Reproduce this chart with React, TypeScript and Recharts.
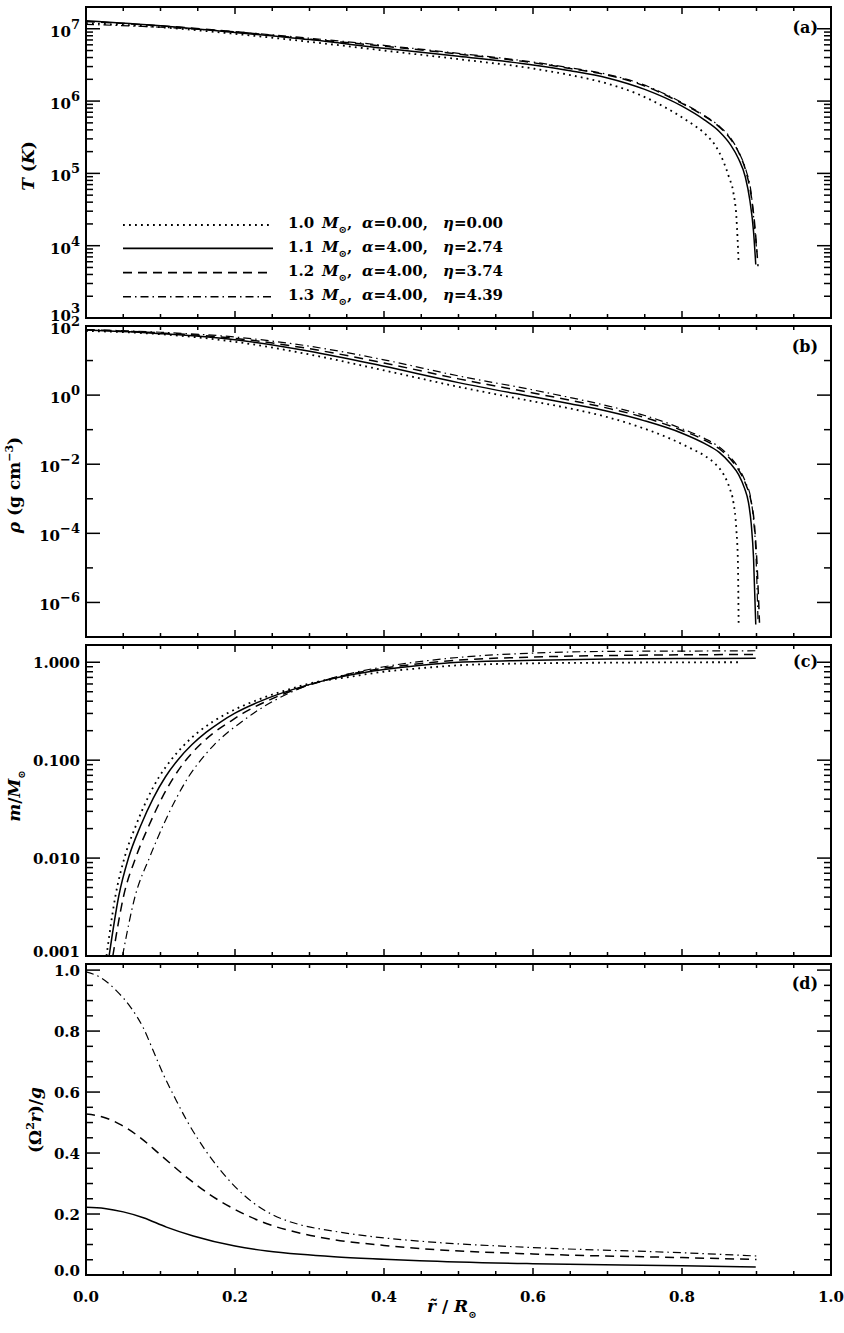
import React from "react";
import { LineChart, Line, XAxis, YAxis, ReferenceArea, Customized } from "recharts";

const FONT = '"DejaVu Serif", "Liberation Serif", serif';
const W = 844;
const PL = 86;
const PR = 831;
const MT = 20;
const PH = 311;

// x axis ticks (r / R_sun)
const X_MAJOR = [0, 0.2, 0.4, 0.6, 0.8, 1.0];
const X_TICKS = [0, 0.05, 0.1, 0.15, 0.2, 0.25, 0.3, 0.35, 0.4, 0.45, 0.5, 0.55, 0.6, 0.65, 0.7, 0.75, 0.8, 0.85, 0.9, 0.95, 1.0];

// legend text
const MASSES = ["1.0", "1.1", "1.2", "1.3"];
const ALPHAS = ["0.00", "4.00", "4.00", "4.00"];
const ETAS = ["0.00", "2.74", "3.74", "4.39"];

// (a) temperature T (K)
const T_R_10 = [0, 0.1, 0.2, 0.3, 0.4, 0.5, 0.6, 0.65, 0.7, 0.74, 0.78, 0.81, 0.83, 0.845, 0.855, 0.863, 0.869, 0.873, 0.876];
const T_10 = [1.2e7, 1.05e7, 8.5e6, 6.6e6, 5.0e6, 3.8e6, 2.82e6, 2.29e6, 1.74e6, 1.26e6, 7.9e5, 5.1e5, 3.6e5, 2.4e5, 1.51e5, 8.9e4, 5.4e4, 2.5e4, 5.9e3];
const T_R_11 = [0, 0.1, 0.2, 0.3, 0.4, 0.5, 0.6, 0.65, 0.7, 0.75, 0.8, 0.83, 0.85, 0.865, 0.876, 0.885, 0.891, 0.896, 0.899];
const T_11 = [1.29e7, 1.1e7, 8.9e6, 7.08e6, 5.37e6, 4.17e6, 3.16e6, 2.63e6, 2.09e6, 1.45e6, 8.5e5, 5.5e5, 3.8e5, 2.5e5, 1.58e5, 8.9e4, 4.3e4, 1.58e4, 5.5e3];
const T_R_12 = [0, 0.1, 0.2, 0.3, 0.4, 0.5, 0.6, 0.65, 0.7, 0.75, 0.8, 0.83, 0.85, 0.865, 0.877, 0.886, 0.893, 0.898, 0.902];
const T_12 = [1.26e7, 1.1e7, 9.1e6, 7.2e6, 5.75e6, 4.47e6, 3.39e6, 2.82e6, 2.29e6, 1.62e6, 9.3e5, 6.2e5, 4.4e5, 3.0e5, 1.86e5, 1.05e5, 4.8e4, 1.78e4, 5.2e3];
const T_R_13 = [0, 0.1, 0.2, 0.3, 0.4, 0.5, 0.6, 0.65, 0.7, 0.75, 0.8, 0.83, 0.85, 0.865, 0.877, 0.886, 0.893, 0.897, 0.901];
const T_13 = [1.15e7, 1.05e7, 9.1e6, 7.4e6, 5.9e6, 4.57e6, 3.47e6, 2.88e6, 2.34e6, 1.66e6, 9.5e5, 6.3e5, 4.5e5, 3.1e5, 1.9e5, 1.1e5, 5.2e4, 2.0e4, 7.1e3];

// (b) density rho (g cm^-3)
const D_R_10 = [0, 0.1, 0.2, 0.3, 0.4, 0.5, 0.6, 0.65, 0.7, 0.74, 0.78, 0.81, 0.83, 0.845, 0.856, 0.864, 0.869, 0.873, 0.875, 0.876];
const RHO_10 = [72, 58, 35, 15, 5.2, 1.74, 0.66, 0.41, 0.23, 0.126, 0.06, 0.03, 0.0178, 0.01, 5.0e-3, 2.0e-3, 7.9e-4, 1.26e-4, 1.6e-5, 2.6e-7];
const D_R_11 = [0, 0.1, 0.2, 0.3, 0.4, 0.5, 0.6, 0.65, 0.7, 0.75, 0.8, 0.83, 0.85, 0.865, 0.876, 0.884, 0.889, 0.893, 0.896, 0.899];
const RHO_11 = [76, 60, 40, 18.6, 6.8, 2.3, 0.89, 0.56, 0.34, 0.18, 0.079, 0.04, 0.022, 0.0105, 5.0e-3, 2.0e-3, 8.3e-4, 1.8e-4, 2.0e-5, 2.3e-7];
const D_R_12 = [0, 0.1, 0.2, 0.3, 0.4, 0.5, 0.6, 0.65, 0.7, 0.75, 0.8, 0.83, 0.85, 0.865, 0.877, 0.886, 0.892, 0.897, 0.9, 0.904];
const RHO_12 = [78, 63, 44, 22, 8.5, 2.95, 1.15, 0.71, 0.42, 0.224, 0.095, 0.05, 0.028, 0.0141, 6.3e-3, 2.5e-3, 1.0e-3, 2.0e-4, 2.5e-5, 2.6e-7];
const D_R_13 = [0, 0.1, 0.2, 0.3, 0.4, 0.5, 0.6, 0.65, 0.7, 0.75, 0.8, 0.83, 0.85, 0.865, 0.877, 0.886, 0.892, 0.896, 0.899, 0.902];
const RHO_13 = [79, 66, 48, 26, 10.5, 3.6, 1.41, 0.85, 0.49, 0.257, 0.107, 0.056, 0.0316, 0.0158, 7.1e-3, 2.8e-3, 1.12e-3, 2.5e-4, 3.2e-5, 3.2e-7];

// (c) enclosed mass m / M_sun
const M_R_10 = [0.0275, 0.0395, 0.0515, 0.067, 0.0825, 0.098, 0.114, 0.132, 0.1505, 0.17, 0.19, 0.2305, 0.271, 0.31, 0.349, 0.4, 0.45, 0.5, 0.6, 0.7, 0.8, 0.877];
const M_10 = [0.001, 0.0041, 0.01, 0.0215, 0.0405, 0.0673, 0.1, 0.1435, 0.193, 0.2466, 0.302, 0.413, 0.525, 0.63, 0.7, 0.8, 0.87, 0.93, 0.975, 0.99, 0.998, 1.0];
const M_R_11 = [0.031, 0.044, 0.057, 0.0735, 0.09, 0.1065, 0.123, 0.142, 0.1615, 0.181, 0.2, 0.2385, 0.277, 0.313, 0.349, 0.4, 0.45, 0.5, 0.6, 0.7, 0.8, 0.899];
const M_11 = [0.001, 0.0041, 0.01, 0.0215, 0.0405, 0.0673, 0.1, 0.1435, 0.193, 0.2466, 0.302, 0.413, 0.525, 0.63, 0.726, 0.841, 0.933, 1.0, 1.047, 1.08, 1.09, 1.1];
const M_R_12 = [0.036, 0.0505, 0.0665, 0.0845, 0.1015, 0.118, 0.134, 0.153, 0.1725, 0.193, 0.211, 0.2465, 0.281, 0.349, 0.4, 0.45, 0.5, 0.6, 0.7, 0.8, 0.902];
const M_12 = [0.001, 0.0041, 0.01, 0.0215, 0.0405, 0.0673, 0.1, 0.1435, 0.193, 0.2466, 0.302, 0.413, 0.525, 0.74, 0.87, 0.97, 1.05, 1.13, 1.17, 1.19, 1.2];
const M_R_13 = [0.049, 0.066, 0.085, 0.1035, 0.121, 0.1375, 0.154, 0.172, 0.1905, 0.209, 0.225, 0.2545, 0.283, 0.349, 0.4, 0.45, 0.5, 0.6, 0.7, 0.8, 0.901];
const M_13 = [0.001, 0.0041, 0.01, 0.0215, 0.0405, 0.0673, 0.1, 0.1435, 0.193, 0.2466, 0.302, 0.413, 0.525, 0.75, 0.9, 1.02, 1.12, 1.24, 1.29, 1.3, 1.31];

// (d) (Omega^2 r)/g
const G_R_11 = [0, 0.025, 0.05, 0.077, 0.108, 0.144, 0.2, 0.243, 0.288, 0.333, 0.4, 0.448, 0.6, 0.8, 0.899];
const G_11 = [0.222, 0.218, 0.207, 0.188, 0.157, 0.128, 0.095, 0.079, 0.068, 0.06, 0.052, 0.047, 0.037, 0.03, 0.026];
const G_R_12 = [0, 0.02, 0.045, 0.072, 0.099, 0.131, 0.166, 0.2, 0.243, 0.288, 0.333, 0.4, 0.448, 0.6, 0.8, 0.9];
const G_12 = [0.528, 0.52, 0.495, 0.452, 0.396, 0.329, 0.264, 0.215, 0.168, 0.137, 0.116, 0.097, 0.087, 0.069, 0.057, 0.051];
const G_R_13 = [0, 0.02, 0.041, 0.06, 0.077, 0.09, 0.104, 0.12, 0.135, 0.15, 0.162, 0.18, 0.198, 0.225, 0.251, 0.287, 0.332, 0.377, 0.448, 0.6, 0.8, 0.903];
const G_13 = [0.994, 0.975, 0.932, 0.878, 0.81, 0.737, 0.657, 0.578, 0.508, 0.447, 0.403, 0.345, 0.295, 0.236, 0.197, 0.165, 0.144, 0.128, 0.111, 0.09, 0.073, 0.062];

// y ticks
const T_MAJOR = [1e3, 1e4, 1e5, 1e6, 1e7];
const RHO_MAJOR = [1e-6, 1e-4, 1e-2, 1, 1e2];
const RHO_TICKS = [1e-7, 1e-6, 1e-5, 1e-4, 1e-3, 1e-2, 1e-1, 1, 10, 100];
const M_MAJOR = [0.001, 0.01, 0.1, 1];
const G_MAJOR = [0, 0.2, 0.4, 0.6, 0.8, 1.0];
const G_TICKS = [0, 0.05, 0.1, 0.15, 0.2, 0.25, 0.3, 0.35, 0.4, 0.45, 0.5, 0.55, 0.6, 0.65, 0.7, 0.75, 0.8, 0.85, 0.9, 0.95, 1.0];

const logTicks = (majors: number[], top: number) => {
  const out: number[] = [];
  majors.forEach((m) => {
    for (let k = 1; k <= 9; k++) if (k * m <= top * 1.000001) out.push(k * m);
  });
  return out;
};

const zip = (r: number[], v: number[]) => r.map((x, i) => ({ r: x, v: v[i] }));

const STYLES = [
  { dash: "1.8 4.2", width: 1.8 },
  { dash: undefined, width: 1.5 },
  { dash: "9 6", width: 1.5 },
  { dash: "8 4 1.5 4", width: 1.2 },
];

const near = (a: number, b: number) => Math.abs(a - b) <= 1e-9 * Math.max(1e-12, Math.abs(a), Math.abs(b));

const tx = { fontFamily: FONT, fill: "#000", fontWeight: "bold" as const };

// tick labels on the left axis
function YTick(props: any) {
  const { y, payload, majors, kind, minVal } = props;
  const v = payload.value;
  if (!majors.some((m: number) => near(m, v))) return <g />;
  const ly = near(v, minVal) ? y - 5 : y;
  if (kind === "pow") {
    const e = Math.round(Math.log10(v));
    return (
      <text x={80} y={ly + 8} textAnchor="end" fontSize={15} {...tx}>
        <tspan>10</tspan>
        <tspan dy={-8} fontSize={13}>{e < 0 ? "\u2212" + -e : String(e)}</tspan>
      </text>
    );
  }
  return (
    <text x={80} y={ly + 6} textAnchor="end" fontSize={15} {...tx}>
      {v.toFixed(kind === "fix3" ? 3 : 1)}
    </text>
  );
}

// inward tick marks on all four sides, plus the x tick labels of the bottom panel
function TickMarks({ scale, domain, yTicks, majors, showXLabels }: any) {
  const [d0, d1] = domain;
  const yPix = (v: number) =>
    scale === "log"
      ? MT + (PH * (Math.log10(d1) - Math.log10(v))) / (Math.log10(d1) - Math.log10(d0))
      : MT + (PH * (d1 - v)) / (d1 - d0);
  const xPix = (v: number) => PL + (PR - PL) * v;
  const yb = MT + PH;
  return (
    <g stroke="#000" strokeWidth={1.5}>
      {yTicks.map((v: number) => {
        const len = majors.some((m: number) => near(m, v)) ? 14 : 7;
        const y = yPix(v);
        return (
          <g key={"y" + v}>
            <line x1={PL} x2={PL + len} y1={y} y2={y} />
            <line x1={PR} x2={PR - len} y1={y} y2={y} />
          </g>
        );
      })}
      {X_TICKS.map((v) => {
        const major = X_MAJOR.some((m) => near(m, v));
        const len = major ? 7 : 4;
        const x = xPix(v);
        return (
          <g key={"x" + v}>
            <line x1={x} x2={x} y1={yb} y2={yb - len} />
            <line x1={x} x2={x} y1={MT} y2={MT + len} />
            {showXLabels && major ? (
              <text x={x} y={yb + 27} textAnchor="middle" fontSize={15} stroke="none" {...tx}>
                {v.toFixed(1)}
              </text>
            ) : null}
          </g>
        );
      })}
    </g>
  );
}

type PanelProps = {
  top: number;
  mb: number;
  scale: "log" | "linear";
  domain: [number, number];
  yTicks: number[];
  majors: number[];
  kind: string;
  series: { data: { r: number; v: number }[]; style: number }[];
  showXLabels?: boolean;
  ann: () => React.ReactElement;
};

function Panel({ top, mb, scale, domain, yTicks, majors, kind, series, showXLabels, ann: Ann }: PanelProps) {
  const H = MT + PH + mb;
  const Overlay = () => (
    <g>
      <TickMarks scale={scale} domain={domain} yTicks={yTicks} majors={majors} showXLabels={showXLabels} />
      <Ann />
    </g>
  );
  return (
    <div style={{ position: "absolute", left: 0, top: top - MT, width: W, height: H }}>
      <LineChart width={W} height={H} margin={{ top: MT, right: W - PR, bottom: mb, left: 0 }}>
        <XAxis dataKey="r" type="number" domain={[0, 1]} allowDataOverflow ticks={X_TICKS} height={0} axisLine={false} tickLine={false} tick={false} />
        <YAxis
          type="number"
          scale={scale}
          domain={domain}
          allowDataOverflow
          ticks={yTicks}
          interval={0}
          width={PL}
          axisLine={false}
          tickLine={false}
          tickSize={0}
          tickMargin={0}
          tick={<YTick majors={majors} kind={kind} minVal={domain[0]} />}
        />
        <ReferenceArea x1={0} x2={1} y1={domain[0]} y2={domain[1]} fill="none" stroke="#000" strokeWidth={2} />
        {series.map((s, i) => (
          <Line
            key={i}
            data={s.data}
            dataKey="v"
            type="monotone"
            stroke="#000"
            strokeWidth={STYLES[s.style].width}
            strokeDasharray={STYLES[s.style].dash}
            dot={false}
            activeDot={false}
            isAnimationActive={false}
          />
        ))}
        <Customized component={Overlay} />
      </LineChart>
    </div>
  );
}

function AnnA() {
  const s = (y: number) => y - 7 + MT;
  const lineY = [225, 248.3, 272.7, 296.7];
  const textY = [228, 252, 276, 300];
  return (
    <g>
      <text x={818} y={s(33)} textAnchor="end" fontSize={16} {...tx}>(a)</text>
      {MASSES.map((m, i) => (
        <g key={m}>
          <line x1={123} x2={273} y1={s(lineY[i])} y2={s(lineY[i])} stroke="#000" strokeWidth={STYLES[i].width + 0.3} strokeDasharray={STYLES[i].dash} />
          <text x={288} y={s(textY[i])} fontSize={15} {...tx}>
            <tspan>{m}</tspan>
            <tspan x={322} fontStyle="italic">M</tspan>
            <tspan dy={5} fontSize={10}>⊙</tspan>
            <tspan dy={-5}>,</tspan>
            <tspan x={362} fontStyle="italic">α</tspan>
            <tspan>={ALPHAS[i]},</tspan>
            <tspan x={443} fontStyle="italic">η</tspan>
            <tspan>={ETAS[i]}</tspan>
          </text>
        </g>
      ))}
      <text transform={`translate(34, ${s(166)}) rotate(-90)`} textAnchor="middle" fontSize={17} {...tx}>
        <tspan fontStyle="italic">T</tspan><tspan> (</tspan><tspan fontStyle="italic">K</tspan><tspan>)</tspan>
      </text>
    </g>
  );
}

function AnnB() {
  const s = (y: number) => y - 326 + MT;
  return (
    <g>
      <text x={818} y={s(352)} textAnchor="end" fontSize={16} {...tx}>(b)</text>
      <text transform={`translate(20, ${s(485)}) rotate(-90)`} textAnchor="middle" fontSize={17} {...tx}>
        <tspan fontStyle="italic">ρ</tspan><tspan> (g cm</tspan><tspan dy={-7} fontSize={11}>−3</tspan><tspan dy={7}>)</tspan>
      </text>
    </g>
  );
}

function AnnC() {
  const s = (y: number) => y - 645 + MT;
  return (
    <g>
      <text x={818} y={s(667)} textAnchor="end" fontSize={16} {...tx}>(c)</text>
      <text transform={`translate(20, ${s(796)}) rotate(-90)`} textAnchor="middle" fontSize={17} {...tx}>
        <tspan fontStyle="italic">m</tspan><tspan>/</tspan><tspan fontStyle="italic">M</tspan><tspan dy={5} fontSize={10}>⊙</tspan>
      </text>
    </g>
  );
}

function AnnD() {
  const s = (y: number) => y - 964 + MT;
  return (
    <g>
      <text x={818} y={s(989)} textAnchor="end" fontSize={16} {...tx}>(d)</text>
      <text transform={`translate(41, ${s(1120)}) rotate(-90)`} textAnchor="middle" fontSize={17} {...tx}>
        <tspan>(Ω</tspan><tspan dy={-7} fontSize={11}>2</tspan><tspan dy={7} fontStyle="italic">r</tspan><tspan>)/</tspan><tspan fontStyle="italic">g</tspan>
      </text>
      <text x={427} y={s(1312)} fontSize={17} {...tx}>
        <tspan fontStyle="italic">{"r\u0303"}</tspan><tspan> / </tspan><tspan fontStyle="italic">R</tspan><tspan dy={6} fontSize={10}>⊙</tspan>
      </text>
    </g>
  );
}

export default function App() {
  return (
    <div style={{ position: "absolute", left: 0, top: 0, width: 844, height: 1333, background: "#fff", fontFamily: FONT }}>
      <Panel
        top={7}
        mb={20}
        scale="log"
        domain={[1e3, 2e7]}
        yTicks={logTicks(T_MAJOR, 2e7)}
        majors={T_MAJOR}
        kind="pow"
        series={[
          { data: zip(T_R_10, T_10), style: 0 },
          { data: zip(T_R_11, T_11), style: 1 },
          { data: zip(T_R_12, T_12), style: 2 },
          { data: zip(T_R_13, T_13), style: 3 },
        ]}
        ann={AnnA}
      />
      <Panel
        top={326}
        mb={20}
        scale="log"
        domain={[1e-7, 1e2]}
        yTicks={RHO_TICKS}
        majors={RHO_MAJOR}
        kind="pow"
        series={[
          { data: zip(D_R_10, RHO_10), style: 0 },
          { data: zip(D_R_11, RHO_11), style: 1 },
          { data: zip(D_R_12, RHO_12), style: 2 },
          { data: zip(D_R_13, RHO_13), style: 3 },
        ]}
        ann={AnnB}
      />
      <Panel
        top={645}
        mb={20}
        scale="log"
        domain={[1e-3, 1.5]}
        yTicks={logTicks(M_MAJOR, 1.5)}
        majors={M_MAJOR}
        kind="fix3"
        series={[
          { data: zip(M_R_10, M_10), style: 0 },
          { data: zip(M_R_11, M_11), style: 1 },
          { data: zip(M_R_12, M_12), style: 2 },
          { data: zip(M_R_13, M_13), style: 3 },
        ]}
        ann={AnnC}
      />
      <Panel
        top={964}
        mb={60}
        scale="linear"
        domain={[0, 1.02]}
        yTicks={G_TICKS}
        majors={G_MAJOR}
        kind="fix1"
        showXLabels
        series={[
          { data: zip(G_R_11, G_11), style: 1 },
          { data: zip(G_R_12, G_12), style: 2 },
          { data: zip(G_R_13, G_13), style: 3 },
        ]}
        ann={AnnD}
      />
    </div>
  );
}
